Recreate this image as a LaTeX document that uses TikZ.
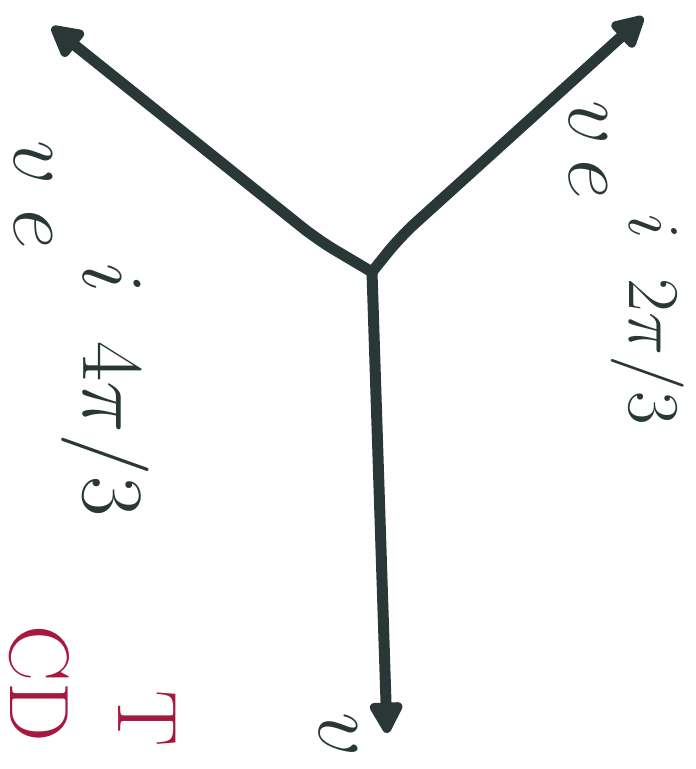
\documentclass[tikz,border=0pt]{standalone}
\usetikzlibrary{arrows.meta}
\definecolor{ink}{HTML}{2A3737}
\definecolor{redink}{HTML}{A8173F}
\newcommand{\rsup}[1]{\raisebox{0.6em}{$\scriptstyle #1$}}
\tikzset{
  vec/.style={draw=ink, line width=1.1mm, line join=round, line cap=round, rounded corners=2mm,
    -{Triangle[length=3.6mm, width=3.6mm, round]}},
  biglabel/.style={text=ink, inner sep=0pt, rotate=-90, anchor=base west, font=\fontsize{33}{40}\selectfont},
  midlabel/.style={text=ink, inner sep=0pt, rotate=-90, anchor=base west, font=\fontsize{28}{34}\selectfont},
  redlabel/.style={text=redink, inner sep=0pt, rotate=-90, anchor=base west, font=\fontsize{24}{29}\selectfont}
}
\begin{document}
\begin{tikzpicture}[x=0.1mm, y=0.1mm]
  \useasboundingbox (0,0) rectangle (696,-769);
  \fill[white] (0,0) rectangle (696,-769);
  % junction and tips
  \coordinate (J) at (372,-272);
  \coordinate (bendL) at (318,-240);
  \coordinate (bendR) at (400,-237);
  \coordinate (tipL) at (52,-27);
  \coordinate (tipR) at (643,-17);
  \coordinate (tipB) at (387,-733);
  % vectors
  \draw[vec] (J) -- (bendL) -- (tipL);
  \draw[vec] (J) -- (bendR) -- (tipR);
  \draw[vec] (J) -- (tipB);
  % labels
  \node[biglabel] (labL) at (14,-140) {$v\;e\,\rsup{i\;\;4\pi/3}$};
  \node[midlabel] (labR) at (570,-100) {$v\,e\,\rsup{i\;\;2\pi/3}$};
  \node[biglabel] (labB) at (320,-712) {$v$};
  % red fragments
  \node[redlabel] (redCD) at (10,-625) {CD};
  \node[redlabel] (redT) at (118,-690) {T};
\end{tikzpicture}
\end{document}
